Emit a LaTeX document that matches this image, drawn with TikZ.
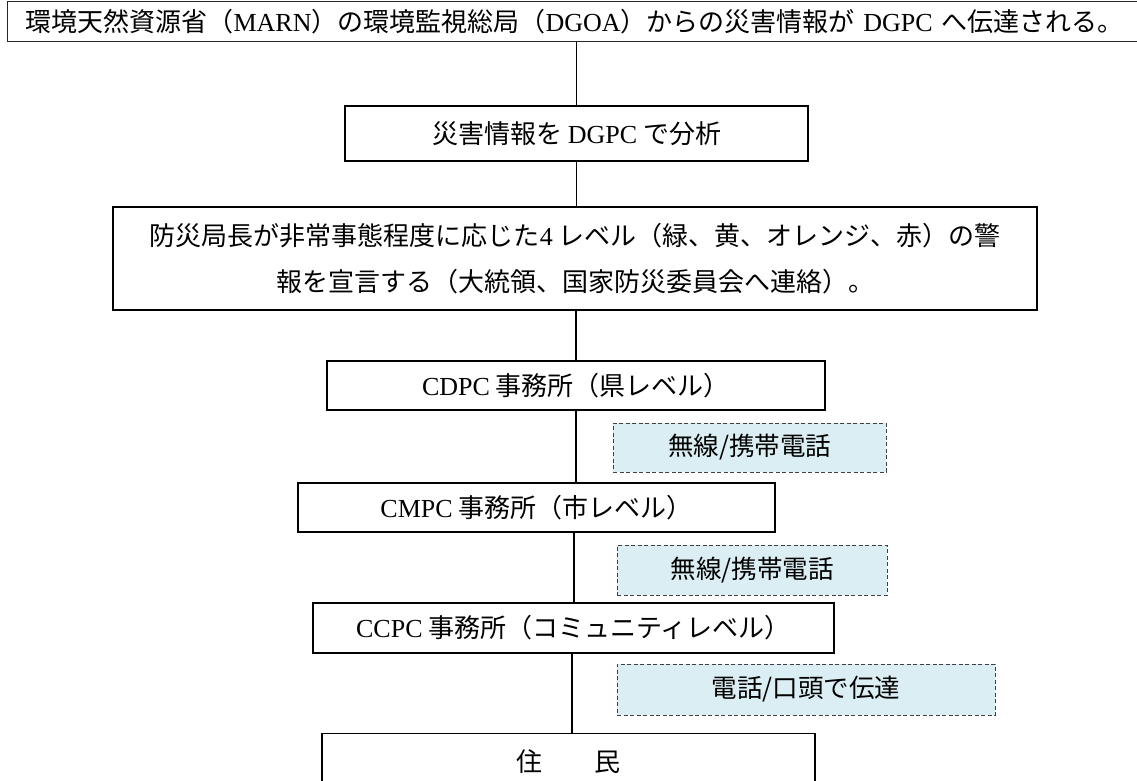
\documentclass[tikz,border=0pt]{standalone}
\usepackage{fontspec}
\setmainfont{Noto Sans CJK JP}
\newfontfamily\lat{Liberation Serif}
\definecolor{paleblue}{HTML}{DAEEF3}
\definecolor{dashgray}{HTML}{404040}
\tikzset{
  box/.style={draw=black, line width=1.2pt, inner sep=0pt, align=center,
    font=\fontsize{26}{46}\selectfont},
  viabox/.style={draw=dashgray, line width=1pt, dash pattern=on 4pt off 2.5pt,
    fill=paleblue, inner sep=0pt, align=center, font=\fontsize{25.5}{30}\selectfont},
  link/.style={line width=1.4pt},
  thicklink/.style={line width=2.8pt}
}
\begin{document}
\begin{tikzpicture}[x=1pt,y=-1pt]
\useasboundingbox (0,0) rectangle (1137,781);
\begin{scope}
\clip (0,0) rectangle (1137,781);
\node[box, draw=black!85, anchor=north west, minimum height=40pt, text width=1124pt,
  inner xsep=18pt, align=left] (top) at (7,1)
  {環境天然資源省（{\lat MARN}）の環境監視総局（{\lat DGOA}）からの災害情報が {\lat DGPC} へ伝達される。};
\node[box, minimum width=463pt, minimum height=55pt] (ana) at (576.5,133.5)
  {災害情報を {\lat DGPC} で分析};
\node[box, minimum width=924pt, minimum height=103pt] (dir) at (575,258.5)
  {防災局長が非常事態程度に応じた{\lat 4} レベル（緑、黄、オレンジ、赤）の警\\
   報を宣言する（大統領、国家防災委員会へ連絡）。};
\node[box, minimum width=498pt, minimum height=49pt] (cdpc) at (576,385.5)
  {{\lat CDPC} 事務所（県レベル）};
\node[viabox, minimum width=273pt, minimum height=49pt] (via1) at (749.5,447.5)
  {無線/携帯電話};
\node[box, minimum width=477pt, minimum height=49pt] (cmpc) at (536.5,507.5)
  {{\lat CMPC} 事務所（市レベル）};
\node[viabox, minimum width=270pt, minimum height=50pt] (via2) at (752,570)
  {無線/携帯電話};
\node[box, minimum width=521pt, minimum height=50pt] (ccpc) at (573.5,628)
  {{\lat CCPC} 事務所（コミュニティレベル）};
\node[viabox, minimum width=378pt, minimum height=51pt] (via3) at (806,689.5)
  {電話/口頭で伝達};
\node[box, minimum width=493pt, minimum height=56pt, anchor=north] (res) at (568.5,733)
  {住　　民};
\coordinate (l5) at (574,0);
\coordinate (l6) at (572,0);
\draw[link] (top.south -| ana.north) -- (ana.north);
\draw[link] (ana.south) -- (ana.south |- dir.north);
\draw[link] (dir.south -| cdpc.north) -- (cdpc.north);
\draw[link] (cdpc.south) -- (cdpc.south |- cmpc.north);
\draw[link] (l5 |- cmpc.south) -- (l5 |- ccpc.north);
\draw[thicklink] (l6 |- ccpc.south) -- (l6 |- res.north);
\end{scope}
\end{tikzpicture}
\end{document}
